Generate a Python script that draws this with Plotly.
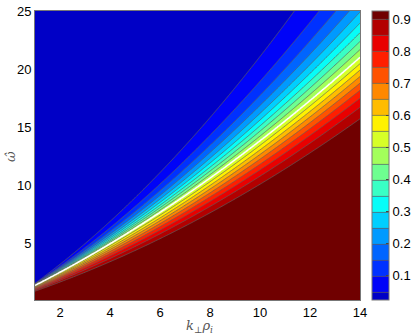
import numpy as np
import plotly.graph_objects as go

# Curvas (k_perp rho_i, omega)
# borde de la zona granate (nivel 0.9)
k_alto = [1, 4, 8, 12, 14]
w_alto = [0.95, 3.3, 7.4, 13.3, 15.4]
# linea blanca (nivel 0.5)
k_medio = [1, 4, 8, 12, 14]
w_medio = [1.38, 4.95, 10.6, 17.3, 21.0]
# borde de la zona azul oscuro (nivel 0.05)
k_bajo = [1, 4, 5.6, 8, 11.4]
w_bajo = [1.64, 6.55, 10.3, 16.0, 25.0]

niveles = dict(start=0.05, end=0.9, size=0.05)
ticks_x = [2, 4, 6, 8, 10, 12, 14]
ticks_y = [5, 10, 15, 20, 25]
ticks_cb = [0.1, 0.2, 0.3, 0.4, 0.5, 0.6, 0.7, 0.8, 0.9]

# Malla
k = np.linspace(1, 14, 300)
w = np.linspace(0.1, 25, 300)
K, W = np.meshgrid(k, w)

medio = np.polyval(np.polyfit(k_medio, w_medio, 2), K)
alto = np.polyval(np.polyfit(k_alto, w_alto, 2), K)
bajo = np.polyval(np.polyfit(k_bajo, w_bajo, 2), K)

# exponentes de cada lado para que los niveles caigan sobre las curvas
s_inf = np.log(9) / np.log(medio / alto)
s_sup = np.log(19) / np.log(bajo / medio)
x = W / medio
s = np.where(x < 1, s_inf, s_sup)
Z = 1 / (1 + x ** s)


# colormap jet recortado
def jet(t):
    r = np.clip(np.minimum(4 * t - 1.5, -4 * t + 4.5), 0, 1)
    g = np.clip(np.minimum(4 * t - 0.5, -4 * t + 3.5), 0, 1)
    b = np.clip(np.minimum(4 * t + 0.5, -4 * t + 2.5), 0, 1)
    return f"rgb({int(r*255)},{int(g*255)},{int(b*255)})"


t0, t1 = 0.07, 1.0
escala = [[p, jet(t0 + p * (t1 - t0))] for p in np.linspace(0, 1, 41)]
escala[-1][1] = "rgb(112,0,0)"

# Posiciones en pixeles (la pagina se deja sin margen con post_script)
ancho, alto_fig = 415, 336
izq, der, arriba, abajo = 35, 360, 11, 300
ancho_papel = ancho - izq
alto_papel = abajo - arriba


def px_x(p):
    return (p - izq) / ancho_papel


def px_y(p):
    return (abajo - p) / alto_papel


fig = go.Figure()

fig.add_trace(go.Contour(
    x=k, y=w, z=Z,
    contours=dict(**niveles, coloring="fill"),
    colorscale=escala,
    line=dict(color="rgba(95,95,95,0.9)", width=0.8),
    colorbar=dict(
        thickness=17, len=1, lenmode="fraction", y=0.5, yanchor="middle", ypad=0,
        x=px_x(372), xpad=0, xanchor="left",
        tickvals=ticks_cb, ticks="inside", ticklen=3, tickcolor="#444",
        outlinecolor="#777", outlinewidth=1,
        tickfont=dict(family="Liberation Sans, Arial", size=13, color="black"),
    ),
    hoverinfo="skip",
))

# linea blanca
fig.add_trace(go.Contour(
    x=k, y=w, z=Z,
    contours=dict(start=0.5, end=0.5, size=1, coloring="none"),
    line=dict(color="white", width=1.6),
    showscale=False,
    hoverinfo="skip",
))

fig.update_layout(
    width=ancho, height=alto_fig,
    margin=dict(l=izq, r=0, t=arriba, b=alto_fig - abajo, autoexpand=False),
    paper_bgcolor="white", plot_bgcolor="white",
    font=dict(family="Liberation Sans, Arial", size=13, color="black"),
    showlegend=False,
    annotations=[
        dict(text="<i>k</i><sub>⊥</sub><i>ρ<sub>i</sub></i>", xref="paper", yref="paper",
             x=px_x(199), y=px_y(326),
             xanchor="center", yanchor="middle", showarrow=False,
             font=dict(family="DejaVu Serif", size=13, color="#555")),
        dict(text="<i>ω̂</i>", xref="paper", yref="paper", textangle=-90,
             x=px_x(10), y=px_y(157),
             xanchor="center", yanchor="middle", showarrow=False,
             font=dict(family="DejaVu Serif", size=13, color="#555")),
    ],
)
fig.update_xaxes(
    domain=[0, (der - izq) / ancho_papel],
    range=[1, 14], tickvals=ticks_x, ticks="", ticklen=0, showgrid=False, zeroline=False,
    showline=True, linecolor="#777", linewidth=1, mirror=True,
    ticklabeloverflow="allow",
)
fig.update_yaxes(
    range=[0.1, 25], tickvals=ticks_y, ticks="", ticklen=0, showgrid=False, zeroline=False,
    showline=True, linecolor="#777", linewidth=1, mirror=True,
    ticklabeloverflow="allow",
)

fig.write_html("out.html", config={"displayModeBar": False},
               post_script="document.body.style.margin = '0px';")
